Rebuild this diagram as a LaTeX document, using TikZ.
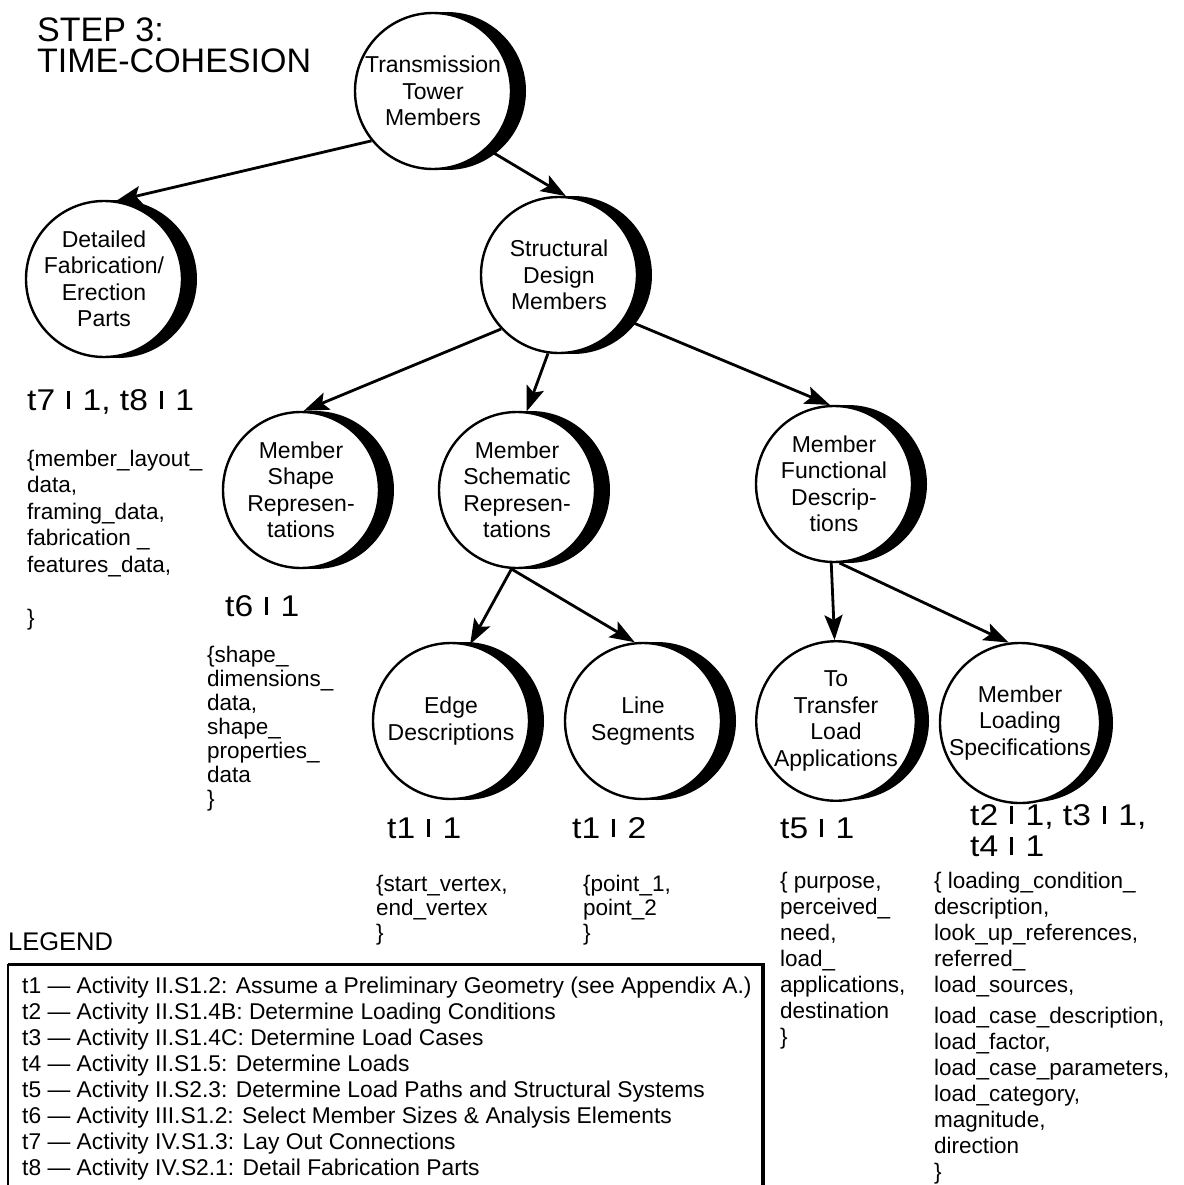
\documentclass[tikz,border=0pt]{standalone}
\usepackage{fontspec}
\setmainfont{Liberation Sans}
% a wider cut of the same face for the time tags
\newfontfamily\tagface[FakeStretch=1.12]{Liberation Sans}
\usetikzlibrary{arrows.meta}
% short thick bar, with its gaps, used in the time tags
\newcommand\vb{\hspace{.08em}\rule[.03em]{.11em}{.62em}\hspace{.1em}}
% fixes the height of the first line of a text block
\newcommand\fl{\rule{0pt}{17pt}}
% a bubble: black crescent shadow, then the white circle on top
\newcommand\bub[3]{%
  \fill ([xshift=14pt]#2) circle[radius=79pt];
  \node[bubble] (#1) at (#2) {#3};}
\begin{document}
\begin{tikzpicture}[x=1pt,y=-1pt,
  bubble/.style={circle,draw,line width=2.4pt,fill=white,minimum size=156pt,
    inner sep=0pt,align=center,font=\fontsize{23}{26.5}\selectfont},
  arr/.style={line width=2.8pt,-{Stealth[length=25pt,width=18pt,inset=5pt]}},
  tag/.style={anchor=base west,inner sep=0pt,font=\tagface\fontsize{30}{31}\selectfont},
  data/.style={anchor=north west,inner sep=0pt,align=left,
    font=\fontsize{22.5}{26}\selectfont},
]
\useasboundingbox (0,0) rectangle (1183,1185);

% title
\node[anchor=north west,inner sep=0pt,align=left,
  font=\fontsize{34}{31}\selectfont] (title) at (37,15)
  {\rule{0pt}{26pt}STEP 3:\\TIME-COHESION};

% bubbles
\bub{tt}{433,91}{Transmission\\Tower\\Members}
\bub{dfe}{104,279}{Detailed\\Fabrication/\\Erection\\Parts}
\bub{sdm}{559,275}{Structural\\Design\\Members}
\bub{msr}{301,490}{Member\\Shape\\Represen-\\tations}
\bub{msc}{517,490}{Member\\Schematic\\Represen-\\tations}
\bub{mfd}{834,484}{Member\\Functional\\Descrip-\\tions}
\bub{ed}{451,721}{Edge\\Descriptions}
\bub{ls}{643,721}{Line\\Segments}
\bub{ttla}{836,721}{To\\Transfer\\Load\\Applications}
\bub{mls}{1020,723}{Member\\Loading\\Specifications}

% connectors
\draw[arr] (tt.219) -- (dfe.81);
\draw[arr] (tt.313) -- (sdm.85);
\draw[arr] (sdm.223) -- (msr.88);
\draw[arr] (sdm.262) -- (msc.83);
\draw[arr] (sdm.326) -- (mfd.93);
\draw[arr] (msc.266) -- (ed.76);
\draw[arr] (msc.266) -- (ls.96);
\draw[arr] (mfd.268) -- (ttla.91);
\draw[arr] (mfd.274) -- (mls.98);

% time tags
\node[tag] (tg78) at (27,410) {t7 \vb\ 1, t8 \vb\ 1};
\node[tag] (tg6) at (225,616) {t6 \vb\ 1};
\node[tag] (tg11) at (387,838) {t1 \vb\ 1};
\node[tag] (tg12) at (572,838) {t1 \vb\ 2};
\node[tag] (tg5) at (780,838) {t5 \vb\ 1};
\node[tag,anchor=north west,align=left] (tg234) at (970,803)
  {\rule{0pt}{22pt}t2 \vb\ 1, t3 \vb\ 1,\\t4 \vb\ 1};

% attribute lists
\node[data,font=\fontsize{22.5}{26.5}\selectfont] (d78) at (27,449)
  {\fl\{member\_layout\_\\data,\\framing\_data,\\fabrication \_\\features\_data,\\[26.5pt]\}};
\node[data,font=\fontsize{22.5}{24}\selectfont] (d6) at (207,645)
  {\fl\{shape\_\\dimensions\_\\data,\\shape\_\\properties\_\\data\\\}};
\node[data,font=\fontsize{22.5}{24.5}\selectfont] (d11) at (376,874)
  {\fl\{start\_vertex,\\end\_vertex\\\}};
\node[data,font=\fontsize{22.5}{24.5}\selectfont] (d12) at (583,874)
  {\fl\{point\_1,\\point\_2\\\}};
\node[data] (d5) at (780,871)
  {\fl\{ purpose,\\perceived\_\\need,\\load\_\\applications,\\destination\\\}};
\node[data] (d234) at (934,871)
  {\fl\{ loading\_condition\_\\description,\\look\_up\_references,\\referred\_\\load\_sources,\\[5pt]load\_case\_description,\\load\_factor,\\load\_case\_parameters,\\load\_category,\\magnitude,\\direction\\\}};

% legend
\node[anchor=base west,inner sep=0pt,font=\fontsize{25.5}{26}\selectfont] (legtitle) at (8,950) {LEGEND};
\draw[line width=1.5pt] (8,1200) -- (8,965) -- (762,965) -- (762,1200);
\draw[line width=3pt] (8,964) -- (763,964) -- (763,1200);
\node[anchor=north west,inner sep=0pt,align=left,
  font=\fontsize{22.8}{26}\selectfont] (legtext) at (22,976)
  {\fl t1 — Activity II.S1.2: Assume a Preliminary Geometry (see Appendix A.)\\
   t2 — Activity II.S1.4B: Determine Loading Conditions\\
   t3 — Activity II.S1.4C: Determine Load Cases\\
   t4 — Activity II.S1.5: Determine Loads\\
   t5 — Activity II.S2.3: Determine Load Paths and Structural Systems\\
   t6 — Activity III.S1.2: Select Member Sizes \& Analysis Elements\\
   t7 — Activity IV.S1.3: Lay Out Connections\\
   t8 — Activity IV.S2.1: Detail Fabrication Parts};
\end{tikzpicture}
\end{document}
